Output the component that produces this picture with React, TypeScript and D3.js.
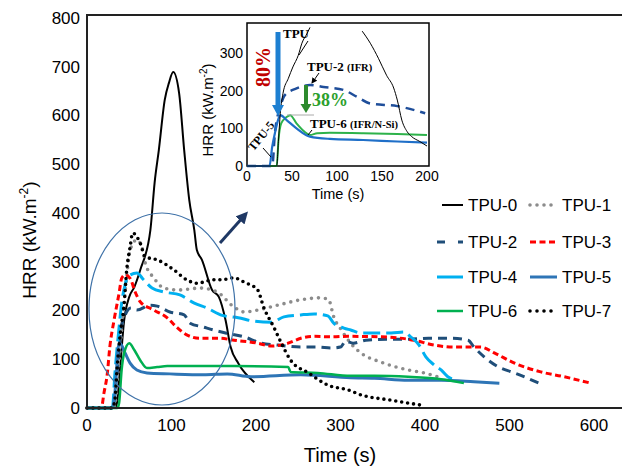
import React from 'react';
import * as d3 from 'd3';

type P = [number, number];

const xTicks = [0, 100, 200, 300, 400, 500, 600];
const yTicks = [0, 100, 200, 300, 400, 500, 600, 700, 800];
const insetXTicks = [0, 50, 100, 150, 200];
const insetYTicks = [0, 100, 200, 300];

const seriesNames = ['TPU-0', 'TPU-1', 'TPU-2', 'TPU-3', 'TPU-4', 'TPU-5', 'TPU-6', 'TPU-7'];

const tpu0: P[] = [[0,0],[33,0],[35.5,10],[39,78],[44,180],[50,228],[56,248],[63,283],[75,365],[80,462],[85,529],[92,632],[97,667],[102,689],[109,646],[115,529],[121,427],[127,365],[130,324],[136,304],[148,242],[156,228],[164,180],[170,125],[179,92],[198,53]];
const tpu1: P[] = [[0,0],[32,0],[37,80],[42,180],[47,270],[51,324],[59,345],[65,330],[69,297],[79,267],[91,246],[107,242],[134,246],[154,238],[174,207],[186,197],[202,201],[226,211],[253,222],[277,226],[286,222],[292,187],[301,160],[312,133],[324,113],[348,94],[380,78],[399,72],[419,62]];
const tpu2: P[] = [[0,0],[30,0],[35,60],[40,160],[45,190],[52,205],[59,201],[75,211],[83,209],[98,197],[115,191],[122,174],[138,166],[150,160],[164,154],[186,146],[206,133],[226,129],[253,125],[273,125],[289,123],[300,125],[306,137],[315,133],[330,139],[356,141],[380,141],[404,143],[431,143],[451,139],[458,125],[470,105],[486,85],[506,72],[535,51]];
const tpu3: P[] = [[0,0],[17,0],[20,30],[24,70],[27,125],[32,180],[38,236],[41,266],[45,273],[51,266],[57,238],[63,218],[79,201],[95,185],[106,166],[118,150],[134,143],[157,143],[174,139],[202,133],[218,127],[238,133],[253,143],[269,147],[289,146],[309,147],[348,146],[387,139],[411,129],[434,125],[466,125],[482,113],[506,92],[537,74],[565,64],[596,51]];
const tpu4: P[] = [[0,0],[30,0],[33,70],[38,166],[41,215],[45,252],[48,269],[59,277],[67,263],[77,246],[91,238],[110,232],[127,215],[142,205],[160,190],[179,185],[198,178],[218,176],[233,187],[253,191],[269,193],[285,189],[292,174],[304,164],[312,160],[324,154],[340,154],[360,154],[375,156],[383,146],[393,129],[401,105],[411,88],[419,78],[427,64],[437,57]];
const tpu5: P[] = [[0,0],[30,0],[33,30],[35,80],[37,125],[39,133],[45,113],[51,92],[59,78],[71,72],[98,70],[138,68],[166,70],[194,64],[253,68],[312,62],[340,61],[380,57],[419,57],[458,54],[488,51]];
const tpu6: P[] = [[0,0],[36,0],[38,10],[41,78],[44,113],[50,133],[56,119],[63,98],[71,82],[83,84],[95,86],[118,86],[157,86],[174,86],[238,84],[241,74],[273,72],[312,66],[340,66],[380,64],[419,59],[446,51]];
const tpu7: P[] = [[0,0],[30,0],[33,16],[35.5,78],[39,146],[44,215],[47,283],[51,330],[54,359],[63,338],[69,310],[83,304],[103,283],[118,263],[130,256],[150,263],[159,263],[174,267],[186,258],[202,242],[209,207],[221,166],[230,133],[241,98],[262,72],[285,47],[309,37],[324,27],[360,16],[395,6]];

const insetTPUrise: P[] = [[0,0],[33,0],[35,69],[37,140],[40,193],[46,233],[51,263],[57,294],[61,326],[67,353],[70,368]];
const insetTPUfall: P[] = [[128,358],[137,326],[146,286],[155,241],[163,207],[167,175],[172,122],[178,91],[183,78],[192,65],[200,53]];
const insetTPU2: P[] = [[0,0],[28,0],[31,87],[37,157],[42,188],[55,206],[70,215],[85,210],[107,202],[122,184],[137,166],[167,159],[198,140]];
const insetTPU5: P[] = [[0,0],[25,0],[28,51],[31,87],[35,126],[37,135],[44,122],[55,100],[70,78],[92,72],[129,69],[167,65],[200,62]];
const insetTPU6: P[] = [[0,0],[33,0],[35,69],[38,113],[44,130],[48,135],[55,113],[64,91],[70,82],[78,87],[92,88],[129,87],[167,85],[200,82]];

const mainData = [tpu0, tpu1, tpu2, tpu3, tpu4, tpu5, tpu6, tpu7];
const colors = ['#000000', '#8c8c8c', '#1f4e79', '#ff0000', '#00b0f0', '#2e75b6', '#00b050', '#000000'];
const widths = [2, 3.6, 3, 3, 3, 3, 2.5, 3.6];
const dashes = [null, '0 7', '9 6', '6 3.5', '17 6', null, null, '0 6'];
const caps = ['butt', 'round', 'butt', 'butt', 'butt', 'butt', 'butt', 'round'];
const legendDash = [null, '0 7', '8 13', '6 3.5', null, null, null, '0 7'];

const SANS = '"Liberation Sans", Arial, sans-serif';
const SERIF = '"Liberation Serif", "Times New Roman", serif';

export default function App() {
  const x = d3.scaleLinear().domain([0, 600]).range([87, 594]);
  const y = d3.scaleLinear().domain([0, 800]).range([408, 18]);
  const line = d3.line<P>().x(d => x(d[0])).y(d => y(d[1])).curve(d3.curveMonotoneX);

  const xi = d3.scaleLinear().domain([0, 200]).range([247, 427]);
  const yi = d3.scaleLinear().domain([0, 300]).range([166, 53]);
  const lineI = d3.line<P>().x(d => xi(d[0])).y(d => yi(d[1])).curve(d3.curveMonotoneX);

  const legendRows = [205, 242, 277, 311];

  return (
    <svg width={622} height={467} style={{ position: 'absolute', left: 0, top: 0, background: '#fff' }}>
      <defs>
        <marker id="navyHead" markerWidth="4" markerHeight="4" refX="2" refY="2" orient="auto" markerUnits="strokeWidth">
          <path d="M0,0 L4,2 L0,4 Z" fill="#1f3864" />
        </marker>
        <marker id="smallHead" markerWidth="6" markerHeight="6" refX="5" refY="3" orient="auto" markerUnits="strokeWidth">
          <path d="M0,0 L6,3 L0,6 Z" fill="#000" />
        </marker>
      </defs>
      <rect x={0} y={0} width={622} height={467} fill="#fff" />

      {mainData.map((d, i) => (
        <path key={i} d={line(d) || ''} fill="none" stroke={colors[i]} strokeWidth={widths[i]}
          strokeDasharray={dashes[i] || undefined} strokeLinecap={caps[i] as any} strokeLinejoin="round" />
      ))}

      <line x1={87} y1={15} x2={87} y2={409} stroke="#222" strokeWidth={2} />
      <line x1={86} y1={408} x2={622} y2={408} stroke="#222" strokeWidth={2} />
      <line x1={86} y1={15} x2={622} y2={15} stroke="#222" strokeWidth={2} />

      {yTicks.map(t => (
        <text key={t} x={80} y={y(t)} dy="0.35em" textAnchor="end" fontFamily={SANS} fontSize={17} fill="#000">{t}</text>
      ))}
      {xTicks.map(t => (
        <text key={t} x={x(t)} y={431} textAnchor="middle" fontFamily={SANS} fontSize={17} fill="#000">{t}</text>
      ))}
      <text transform="translate(36,240) rotate(-90)" textAnchor="middle" fontFamily={SANS} fontSize={19} fill="#000">
        HRR (kW.m<tspan fontSize={12} dy={-8}>-2</tspan><tspan dy={8}>)</tspan>
      </text>
      <text x={340} y={462} textAnchor="middle" fontFamily={SANS} fontSize={20} fill="#000">Time (s)</text>

      <ellipse cx={162} cy={309} rx={73} ry={96} fill="none" stroke="#3f72a8" strokeWidth={1.2} />
      <line x1={220} y1={243} x2={244} y2={216} stroke="#1f3864" strokeWidth={3} markerEnd="url(#navyHead)" />

      {seriesNames.map((n, i) => {
        const col = i % 2;
        const row = Math.floor(i / 2);
        const cy = legendRows[row];
        const x1 = col === 0 ? (i === 0 ? 442 : 437) : 530;
        const x2 = col === 0 ? 463 : 557;
        const tx = col === 0 ? 468 : 562;
        return (
          <g key={n}>
            <line x1={x1} y1={cy} x2={x2} y2={cy} stroke={colors[i]} strokeWidth={widths[i]}
              strokeDasharray={legendDash[i] || undefined} strokeLinecap={caps[i] as any} />
            <text x={tx} y={cy} dy="0.36em" fontFamily={SANS} fontSize={17} fill="#000">{n}</text>
          </g>
        );
      })}

      <rect x={247} y={23} width={182} height={143} fill="#fff" stroke="#000" strokeWidth={1.5} />
      <path d={lineI(insetTPU2) || ''} fill="none" stroke="#1f4e9a" strokeWidth={2.5} strokeDasharray="9 6" />
      <path d={lineI(insetTPU6) || ''} fill="none" stroke="#2db24a" strokeWidth={2} />
      <path d={lineI(insetTPU5) || ''} fill="none" stroke="#1f6fc8" strokeWidth={2.2} />
      <path d={lineI(insetTPUrise) || ''} fill="none" stroke="#000" strokeWidth={1} />
      <path d={lineI(insetTPUfall) || ''} fill="none" stroke="#000" strokeWidth={1} />
      {insetYTicks.map(t => (
        <text key={t} x={243} y={yi(t)} dy="0.35em" textAnchor="end" fontFamily={SANS} fontSize={14} fill="#000">{t}</text>
      ))}
      {insetXTicks.map(t => (
        <text key={t} x={xi(t)} y={181} textAnchor="middle" fontFamily={SANS} fontSize={14} fill="#000">{t}</text>
      ))}
      <text transform="translate(213,110) rotate(-90)" textAnchor="middle" fontFamily={SANS} fontSize={15} fill="#000">
        HRR (kW.m<tspan fontSize={10} dy={-6}>-2</tspan><tspan dy={6}>)</tspan>
      </text>
      <text x={338} y={199} textAnchor="middle" fontFamily={SANS} fontSize={14.5} fill="#000">Time (s)</text>

      <rect x={275.5} y={32} width={5} height={74} fill="#1d7fd1" />
      <path d="M272,105 L284,105 L278,116 Z" fill="#1d7fd1" />
      <text transform="translate(270,67) rotate(-90)" textAnchor="middle" fontFamily={SERIF} fontWeight="bold" fontSize={20} fill="#c00000">80%</text>
      <text x={283} y={38} fontFamily={SERIF} fontWeight="bold" fontSize={13} fill="#000">TPU</text>
      <line x1={308} y1={41} x2={299} y2={55} stroke="#000" strokeWidth={1} />
      <text x={307} y={71} fontFamily={SERIF} fontWeight="bold" fontSize={13} fill="#000">TPU-2 <tspan fontSize={10.5}>(IFR)</tspan></text>
      <line x1={319} y1={73} x2={312} y2={83} stroke="#000" strokeWidth={1} markerEnd="url(#smallHead)" />
      <line x1={287} y1={115} x2={314} y2={115} stroke="#aaa" strokeWidth={1} />
      <rect x={304} y={85} width={4} height={20} fill="#2d8a2d" />
      <path d="M300.5,104 L311.5,104 L306,113 Z" fill="#2d8a2d" />
      <text x={312} y={106} fontFamily={SERIF} fontWeight="bold" fontSize={18} fill="#2ca02c">38%</text>
      <text x={310} y={128} fontFamily={SERIF} fontWeight="bold" fontSize={13} fill="#000">TPU-6 <tspan fontSize={10.5}>(IFR/N-Si)</tspan></text>
      <line x1={312} y1={130} x2={308} y2={135} stroke="#000" strokeWidth={1} />
      <text transform="translate(261,136) rotate(-51)" textAnchor="middle" dy="0.35em" fontFamily={SERIF} fontWeight="bold" fontSize={12} fill="#000">TPU-5</text>
      <line x1={263} y1={148} x2={271} y2={157} stroke="#000" strokeWidth={1} />
    </svg>
  );
}
